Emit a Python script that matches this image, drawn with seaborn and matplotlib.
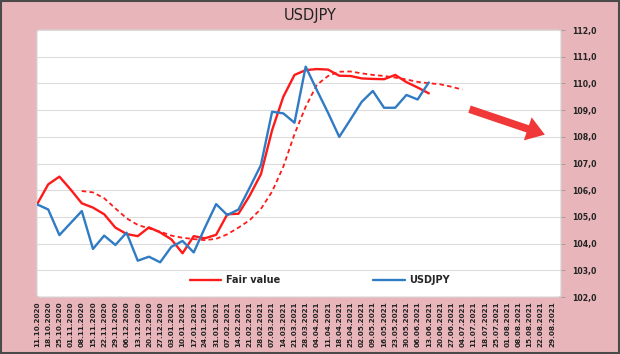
import numpy as np
import pandas as pd
import matplotlib
matplotlib.use("Agg")
import matplotlib.pyplot as plt
from matplotlib.patches import FancyBboxPatch
import seaborn as sns

# weekly dates on the x axis
dates = ["11.10.2020", "18.10.2020", "25.10.2020", "01.11.2020", "08.11.2020",
         "15.11.2020", "22.11.2020", "29.11.2020", "06.12.2020", "13.12.2020",
         "20.12.2020", "27.12.2020", "03.01.2021", "10.01.2021", "17.01.2021",
         "24.01.2021", "31.01.2021", "07.02.2021", "14.02.2021", "21.02.2021",
         "28.02.2021", "07.03.2021", "14.03.2021", "21.03.2021", "28.03.2021",
         "04.04.2021", "11.04.2021", "18.04.2021", "25.04.2021", "02.05.2021",
         "09.05.2021", "16.05.2021", "23.05.2021", "30.05.2021", "06.06.2021",
         "13.06.2021", "20.06.2021", "27.06.2021", "04.07.2021", "11.07.2021",
         "18.07.2021", "25.07.2021", "01.08.2021", "08.08.2021", "15.08.2021",
         "22.08.2021", "29.08.2021"]

usdjpy = [105.47, 105.28, 104.32, 104.77, 105.22, 103.80, 104.30, 103.95, 104.41,
          103.36, 103.51, 103.30, 103.88, 104.10, 103.67, 104.60, 105.48, 105.07,
          105.28, 106.10, 106.94, 108.94, 108.88, 108.53, 110.63, 109.75, 108.90,
          108.00, 108.65, 109.31, 109.72, 109.09, 109.09, 109.57, 109.40, 110.04]

fair_value = [105.47, 106.22, 106.51, 106.03, 105.51, 105.35, 105.10, 104.60, 104.36,
              104.28, 104.61, 104.42, 104.16, 103.64, 104.28, 104.20, 104.33, 105.10,
              105.12, 105.80, 106.60, 108.25, 109.50, 110.32, 110.50, 110.54, 110.52,
              110.29, 110.28, 110.19, 110.17, 110.16, 110.32, 110.05, 109.85, 109.63]

# smoothed fair value (dashed), starts at 08.11.2020
trend_start = 4
fair_trend = [105.97, 105.92, 105.70, 105.32, 104.95, 104.70, 104.57, 104.45, 104.30,
              104.22, 104.17, 104.13, 104.18, 104.35, 104.60, 104.88, 105.30, 105.95,
              106.88, 108.10, 109.13, 109.95, 110.28, 110.44, 110.45, 110.38, 110.32,
              110.28, 110.22, 110.15, 110.06, 110.01, 109.97, 109.88, 109.77]

y_ticks = [102, 103, 104, 105, 106, 107, 108, 109, 110, 111, 112]

# arrow (x index, value)
arrow_from = (38.4, 109.07)
arrow_to = (45.6, 108.05)

pink = "#e8b6ba"
red = "#ff1a1a"
blue = "#2f7bc4"

sns.set_theme(style="white")
plt.rcParams["font.family"] = ["DejaVu Sans"]

fig = plt.figure(figsize=(6.2, 3.54), dpi=100, facecolor=pink)

# white plot area with rounded corners, behind the axes
fig.patches.append(FancyBboxPatch((0.0597, 0.161), 0.845, 0.754,
                                  boxstyle="round,pad=0,rounding_size=0.006",
                                  transform=fig.transFigure, facecolor="white",
                                  edgecolor="#d8d8d8", linewidth=0.8, zorder=-5))
# outer border
fig.patches.append(FancyBboxPatch((0.002, 0.003), 0.996, 0.994, boxstyle="square,pad=0",
                                  transform=fig.transFigure, facecolor="none",
                                  edgecolor="#4a4a4a", linewidth=1.5, zorder=10))

ax = fig.add_axes([0.0597, 0.161, 0.845, 0.754])
ax.patch.set_visible(False)

x_all = np.arange(len(dates))
df_spot = pd.DataFrame({"x": x_all[:len(usdjpy)], "y": usdjpy})
df_fair = pd.DataFrame({"x": x_all[:len(fair_value)], "y": fair_value})
df_trend = pd.DataFrame({"x": x_all[trend_start:trend_start + len(fair_trend)], "y": fair_trend})

for v in y_ticks:
    ax.axhline(v, color="#dcdcdc", linewidth=0.8, zorder=1)

sns.lineplot(data=df_trend, x="x", y="y", ax=ax, color=red, linewidth=1.3,
             linestyle=(0, (2.5, 1.8)), zorder=3)
sns.lineplot(data=df_fair, x="x", y="y", ax=ax, color=red, linewidth=1.7,
             label="Fair value", zorder=4)
sns.lineplot(data=df_spot, x="x", y="y", ax=ax, color=blue, linewidth=1.7,
             label="USDJPY", zorder=5)

ax.annotate("", xy=arrow_to, xytext=arrow_from, zorder=6,
            arrowprops=dict(arrowstyle="simple,head_width=1.75,head_length=1.3,tail_width=0.55",
                            mutation_scale=10, color="#f03838", linewidth=0))

ax.set_xlim(0, 46.8)
ax.set_ylim(102, 112)
ax.set_xticks(x_all)
ax.set_xticklabels(dates, rotation=90, fontsize=5.2, fontweight="bold", color="#222222")
ax.yaxis.tick_right()
ax.set_yticks(y_ticks)
ax.set_yticklabels([f"{v:.1f}".replace(".", ",") for v in y_ticks],
                   fontsize=5.6, fontweight="bold", color="#222222")
ax.tick_params(axis="x", length=0, pad=3)
ax.tick_params(axis="y", length=3, width=0.6, color="#999999", pad=5, right=True, left=False)
ax.set_xlabel("")
ax.set_ylabel("")
for s in ax.spines.values():
    s.set_visible(False)

handles, labels = ax.get_legend_handles_labels()
leg = ax.legend(handles, labels, loc="center", bbox_to_anchor=(0.54, 0.064), ncol=2,
                frameon=False, handlelength=3.2, handletextpad=0.5, columnspacing=9.6,
                prop={"weight": "bold", "size": 7})

fig.text(0.5, 0.955, "USDJPY", ha="center", va="center", fontsize=10.5, color="#222222")

fig.savefig("out.png", dpi=100, facecolor=pink)
